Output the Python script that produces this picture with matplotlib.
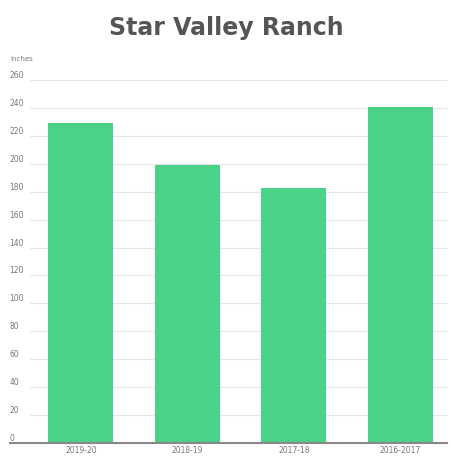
import numpy as np
import matplotlib.pyplot as plt

# snowfall per season
seasons = ['2019-20', '2018-19', '2017-18', '2016-2017']
inches = [229, 199, 183, 241]
yticks = list(range(0, 261, 20))

green = '#4ad388'
grey = '#777777'

fig = plt.figure(figsize=(4.52, 4.58), dpi=100)
ax = fig.add_axes([0.066, 0.033, 0.923, 0.792])

x = np.arange(len(seasons))
ax.bar(x, inches, width=0.61, color=green, zorder=2)

ax.set_ylim(0, 260)
ax.set_xlim(-0.48, 3.44)
ax.set_yticks(yticks)
ax.set_yticklabels([str(v) for v in yticks])
ax.set_xticks(x)
ax.set_xticklabels(seasons)
ax.tick_params(axis='y', length=0, pad=14.5, labelsize=5.5, labelcolor=grey)
ax.tick_params(axis='x', length=0, pad=2, labelsize=5.5, labelcolor=grey)
for lbl in ax.get_yticklabels():
    lbl.set_horizontalalignment('left')
    lbl.set_verticalalignment('bottom')

ax.grid(axis='y', color='#e6e6e6', linewidth=0.8, zorder=0)
for s in ax.spines.values():
    s.set_visible(False)
ax.axhline(0, xmin=-0.047, xmax=1, color='#888888', linewidth=1.5, clip_on=False, zorder=3)

fig.text(0.022, 0.872, 'Inches', fontsize=5, color=grey, ha='left', va='center')
fig.text(0.5, 0.938, 'Star Valley Ranch', fontsize=17, fontweight='bold', color='#555555',
         ha='center', va='center')

fig.savefig('out.png', dpi=100)
